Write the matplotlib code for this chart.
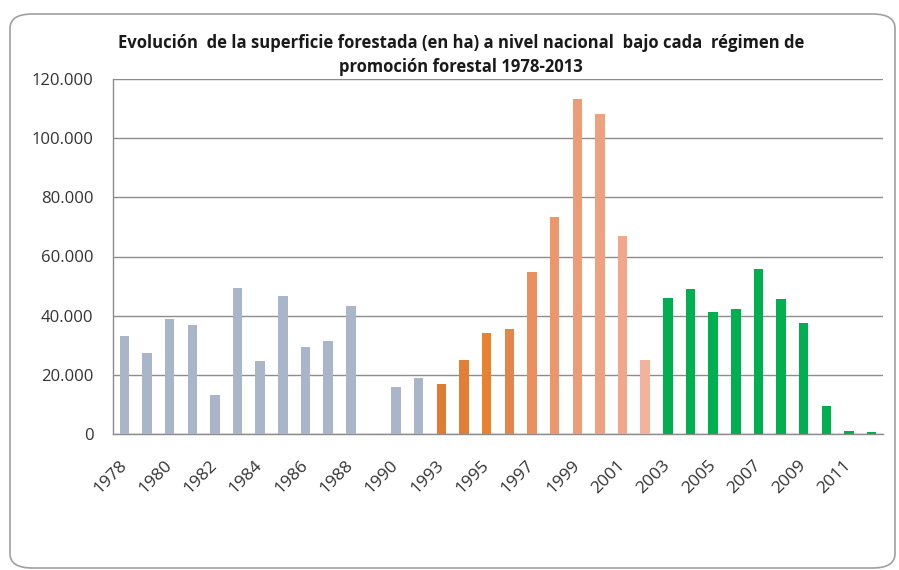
import matplotlib
matplotlib.use("Agg")
import matplotlib.pyplot as plt
from matplotlib import font_manager
from matplotlib.patches import FancyBboxPatch

def pick_font(cands):
    for c in cands:
        try:
            font_manager.findfont(font_manager.FontProperties(family=c), fallback_to_default=False)
            return c
        except Exception:
            continue
    return "DejaVu Sans"

title_font = pick_font(["Liberation Sans Narrow", "Open Sans", "Liberation Sans"])
tick_font = pick_font(["Open Sans", "Liberation Sans", "DejaVu Sans"])

# ---- data ----
years = ["1978", "1979", "1980", "1981", "1982", "1983", "1984", "1985", "1986", "1987",
         "1988", "1989", "1990", "1992", "1993", "1994", "1995", "1996", "1997", "1998",
         "1999", "2000", "2001", "2002", "2003", "2004", "2005", "2006", "2007", "2008",
         "2009", "2010", "2011", "2012"]
values = [33000, 27300, 38800, 36700, 13200, 49300, 24600, 46500, 29300, 31400,
          43400, 0, 15800, 18800, 16900, 25100, 34000, 35600, 54900, 73200,
          113400, 108200, 66900, 25100, 46100, 49100, 41400, 42400, 55900, 45500,
          37600, 9500, 1100, 700]
tick_labels = ["1978", "", "1980", "", "1982", "", "1984", "", "1986", "", "1988", "",
               "1990", "", "1993", "", "1995", "", "1997", "", "1999", "", "2001", "",
               "2003", "", "2005", "", "2007", "", "2009", "", "2011", ""]

grey = "#A9B5C9"
green = "#00B050"
orange_shades = ["#E07B33", "#E27E35", "#E8822F", "#E2874C", "#EA8F5D", "#EE9569",
                 "#EC9C78", "#EEA181", "#F0A78B", "#F2B39C"]
colors = [grey] * 14 + orange_shades + [green] * 10

fig = plt.figure(figsize=(8.99, 5.70), dpi=100)

# outer rounded border
border = FancyBboxPatch((10 / 899, 2 / 570), 885 / 899, 554 / 570,
                        boxstyle="round,pad=0,rounding_size=0.025",
                        transform=fig.transFigure, facecolor="white",
                        edgecolor="#A0A0A0", linewidth=1.2, zorder=-10)
fig.patches.append(border)

ax = fig.add_axes([113 / 899, 1 - 434 / 570, (883 - 113) / 899, (434 - 79) / 570])
ax.set_zorder(5)
ax.set_facecolor("none")
x = list(range(len(years)))
ax.bar(x, values, width=0.42, color=colors, zorder=3)

ax.set_xlim(-0.5, len(years) - 0.5)
ax.set_ylim(0, 120000)
yticks = [0, 20000, 40000, 60000, 80000, 100000, 120000]
ax.set_yticks(yticks)
ax.set_yticklabels([f"{v:,}".replace(",", ".") for v in yticks],
                   fontsize=12, color="#333333", family=tick_font)
ax.yaxis.grid(True, color="#8C8C8C", linewidth=1.0, zorder=0)
ax.set_axisbelow(True)

ax.set_xticks(x)
ax.set_xticklabels(tick_labels, rotation=45, ha="right", va="center",
                   rotation_mode="anchor", fontsize=12.5, color="#333333", family=tick_font)
ax.tick_params(axis="x", length=0, pad=21)
ax.tick_params(axis="y", length=0, pad=14)

for s in ["top", "right"]:
    ax.spines[s].set_visible(False)
ax.spines["left"].set_color("#8C8C8C")
ax.spines["bottom"].set_color("#8C8C8C")
ax.spines["left"].set_linewidth(1.0)
ax.spines["bottom"].set_linewidth(1.0)

fig.text(461 / 899, 1 - 43 / 570,
         "Evolución  de la superficie forestada (en ha) a nivel nacional  bajo cada  régimen de",
         ha="center", va="center", fontsize=12, fontweight="bold", family=title_font,
         color="#1A1A1A")
fig.text(461 / 899, 1 - 67 / 570, "promoción forestal 1978-2013",
         ha="center", va="center", fontsize=12, fontweight="bold", family=title_font,
         color="#1A1A1A")

fig.savefig("out.png", dpi=100)
